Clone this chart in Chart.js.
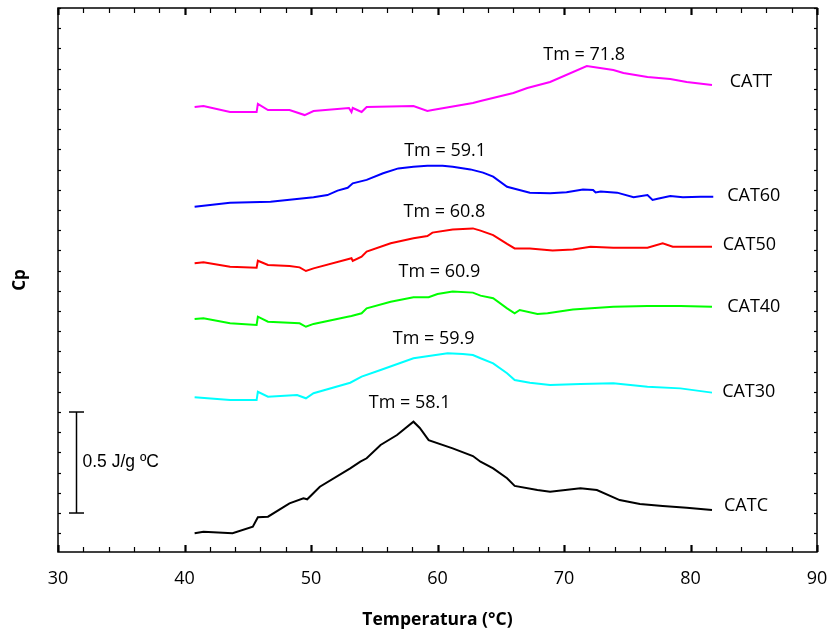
<!DOCTYPE html>
<html><head><meta charset="utf-8">
<script src="https://cdn.jsdelivr.net/npm/chart.js@4.4.1/dist/chart.umd.min.js"></script>
<style>html,body{margin:0;padding:0;background:#fff}#wrap{width:831px;height:635px}</style>
</head><body><div id="wrap"><canvas id="c" width="831" height="635"></canvas></div>
<script>
// ---- data (temperature in °C, Cp offset traces in J/g°C) ----
const seriesNames = ['CATC','CAT30','CAT40','CAT50','CAT60','CATT'];
const tmValues = [58.1, 59.9, 60.9, 60.8, 59.1, 71.8];
const xTickValues = [30,40,50,60,70,80,90];
const scaleBarValue = 0.5;

const catcT  = [40.8,41.5,43.8,45.4,45.8,46.6,48.3,49.4,49.7,50.7,53.1,53.9,54.4,55.5,56.8,58.1,58.6,59.3,61.2,62.8,63.4,64.4,65.5,66.1,67.9,68.9,71.3,72.6,74.4,76.0,77.8,79.7,81.7];
const catcCp = [-0.100,-0.093,-0.100,-0.068,-0.021,-0.018,0.048,0.073,0.068,0.130,0.221,0.254,0.271,0.337,0.386,0.452,0.421,0.361,0.320,0.282,0.254,0.221,0.172,0.134,0.114,0.105,0.122,0.114,0.064,0.045,0.035,0.026,0.015];

const cat30T  = [40.8,43.6,45.7,45.8,46.6,48.9,49.6,50.2,53.1,54.0,55.5,58.1,60.8,62.0,62.8,63.4,64.4,65.5,66.1,67.3,68.9,71.3,73.9,76.6,79.2,81.7];
const cat30Cp = [0.573,0.559,0.559,0.600,0.576,0.584,0.568,0.593,0.645,0.675,0.708,0.766,0.791,0.787,0.782,0.766,0.741,0.692,0.658,0.645,0.634,0.639,0.642,0.625,0.617,0.596];

const cat40T  = [40.8,41.5,43.6,45.7,45.8,46.6,49.1,49.6,50.2,52.9,53.2,54.0,54.4,56.3,58.1,59.3,60.0,61.2,62.8,63.4,64.4,65.5,66.1,66.5,67.9,68.7,70.7,73.9,76.6,79.2,81.7];
const cat40Cp = [0.960,0.964,0.939,0.931,0.972,0.947,0.939,0.922,0.936,0.972,0.975,0.989,1.013,1.046,1.068,1.068,1.084,1.096,1.091,1.076,1.063,1.013,0.989,1.005,0.985,0.989,1.008,1.021,1.025,1.025,1.021];

const cat50T  = [40.8,41.5,43.6,45.7,45.8,46.6,48.3,49.1,49.6,50.2,52.9,53.2,53.3,54.0,54.4,56.3,58.1,59.2,59.6,61.2,62.8,63.4,64.4,65.5,66.1,67.3,69.1,70.7,72.1,73.9,76.6,77.8,78.6,81.7];
const cat50Cp = [1.236,1.241,1.219,1.214,1.249,1.228,1.223,1.216,1.198,1.211,1.256,1.261,1.248,1.269,1.294,1.335,1.360,1.371,1.388,1.404,1.409,1.398,1.376,1.332,1.310,1.310,1.299,1.305,1.318,1.313,1.313,1.335,1.318,1.318];

const cat60T  = [40.8,43.6,46.8,50.2,51.3,52.1,52.9,53.3,54.4,55.7,56.9,58.1,59.2,60.4,61.2,62.6,63.6,64.4,65.5,67.3,68.9,70.2,71.5,72.3,72.5,72.9,74.2,75.5,76.6,77.0,77.4,78.4,79.4,80.8,81.8];
const cat60Cp = [1.516,1.536,1.541,1.563,1.574,1.596,1.610,1.632,1.649,1.682,1.706,1.714,1.719,1.719,1.714,1.701,1.685,1.665,1.615,1.586,1.583,1.588,1.602,1.599,1.587,1.591,1.586,1.563,1.574,1.550,1.556,1.569,1.563,1.566,1.566];

const cattT  = [40.8,41.5,43.6,45.7,45.8,46.6,48.3,49.5,50.2,53.0,53.2,53.3,54.0,54.4,58.1,59.2,59.6,62.8,63.4,66.0,67.1,68.9,71.8,73.9,74.7,76.6,78.4,79.7,81.7];
const cattCp = [2.010,2.015,1.985,1.985,2.025,1.995,1.995,1.970,1.990,2.005,1.985,2.005,1.985,2.010,2.015,1.990,1.995,2.030,2.040,2.079,2.104,2.134,2.213,2.193,2.178,2.158,2.149,2.134,2.119];

// ---- styling / placement (not data) ----
const seriesColors = ['#000000','#00FFFF','#00FF00','#FF0000','#0000FF','#FF00FF'];
const tmLabelPos   = [[57.8,0.545],[59.7,0.861],[60.15,1.193],[60.55,1.490],[60.6,1.792],[71.6,2.267]];
const nameLabelPos = [[82.65,0.035],[82.5,0.599],[82.9,1.021],[82.55,1.327],[82.9,1.569],[83.1,2.134]];
const scaleBarX = 31.42, scaleBarBase = 0;

const allT  = [catcT, cat30T, cat40T, cat50T, cat60T, cattT];
const allCp = [catcCp, cat30Cp, cat40Cp, cat50Cp, cat60Cp, cattCp];

const datasets = seriesNames.map((n,i)=>({
  label:n,
  data: allT[i].map((t,j)=>({x:t, y:allCp[i][j]})),
  borderColor: seriesColors[i],
  borderWidth: 2,
  pointRadius: 0,
  tension: 0,
  fill: false
}));

const decor = {
  id:'decor',
  afterDraw(chart){
    const {ctx, chartArea:a, scales:{x,y}} = chart;
    ctx.save();
    ctx.strokeStyle = '#000';
    const line=(x1,y1,x2,y2,w)=>{ctx.lineWidth=w;ctx.beginPath();ctx.moveTo(x1,y1);ctx.lineTo(x2,y2);ctx.stroke();};
    ctx.lineWidth = 1.5;
    ctx.strokeRect(a.left, a.top, a.right-a.left, a.bottom-a.top);
    for (let t=30; t<=90; t+=2){
      const px = Math.round(x.getPixelForValue(t))+0.5;
      const major = t%10===0;
      const L = major?7:5, w = major?2.2:1.2;
      line(px,a.bottom,px,a.bottom-L,w);
      line(px,a.top,px,a.top+L,w);
    }
    for (let i=-1;i<=25;i++){
      const py = Math.round(y.getPixelForValue(i/10))+0.5;
      const L = 3;
      line(a.left,py,a.left+L,py,1.2);
      line(a.right,py,a.right-L,py,1.2);
    }
    const bx = Math.round(x.getPixelForValue(scaleBarX))+0.5;
    const by0 = y.getPixelForValue(scaleBarBase), by1 = y.getPixelForValue(scaleBarBase+scaleBarValue);
    line(bx,by0,bx,by1,1.5);
    line(bx-7.5,by0,bx+7.5,by0,1.5);
    line(bx-7.5,by1,bx+7.5,by1,1.5);
    ctx.fillStyle='#000';
    ctx.textBaseline='middle';
    ctx.textAlign='left';
    ctx.font='17.5px "Liberation Sans", Arial, sans-serif';
    ctx.fillText(scaleBarValue+' J/g \u00BAC', bx+6, (by0+by1)/2);
    ctx.font='18px "Open Sans", sans-serif';
    seriesNames.forEach((n,i)=>{
      ctx.textAlign='center';
      ctx.fillText('Tm = '+tmValues[i].toFixed(1), x.getPixelForValue(tmLabelPos[i][0]), y.getPixelForValue(tmLabelPos[i][1]));
      ctx.textAlign='left';
      ctx.fillText(n, x.getPixelForValue(nameLabelPos[i][0]), y.getPixelForValue(nameLabelPos[i][1]));
    });
    ctx.restore();
  }
};

new Chart(document.getElementById('c'), {
  type:'line',
  data:{datasets},
  options:{
    responsive:false,
    animation:false,
    devicePixelRatio:1,
    layout:{padding:{top:8,right:14,left:0,bottom:0}},
    plugins:{legend:{display:false},tooltip:{enabled:false}},
    scales:{
      x:{
        type:'linear', min:30, max:90,
        afterBuildTicks:(s)=>{ s.ticks = xTickValues.map(v=>({value:v})); },
        ticks:{font:{family:'"Open Sans", sans-serif', size:18}, color:'#000', padding:16, maxRotation:0},
        grid:{display:false, drawTicks:false},
        border:{display:false},
        title:{display:true, text:'Temperatura (°C)', color:'#000', font:{family:'"Open Sans", sans-serif', size:17.5, weight:'bold'}, padding:{top:4,bottom:4}},
        afterFit:(s)=>{ s.height = 83; s.paddingRight = 0; s.paddingLeft = 0; }
      },
      y:{
        type:'linear', min:-0.193, max:2.5,
        ticks:{display:false},
        grid:{display:false, drawTicks:false},
        border:{display:false},
        title:{display:true, text:'Cp', color:'#000', font:{family:'"Open Sans", sans-serif', size:17, weight:'bold'}, padding:{top:10,bottom:0}},
        afterFit:(s)=>{ s.width = 58; s.paddingTop = 0; s.paddingBottom = 0; }
      }
    }
  },
  plugins:[decor]
});
</script>
</body></html>
